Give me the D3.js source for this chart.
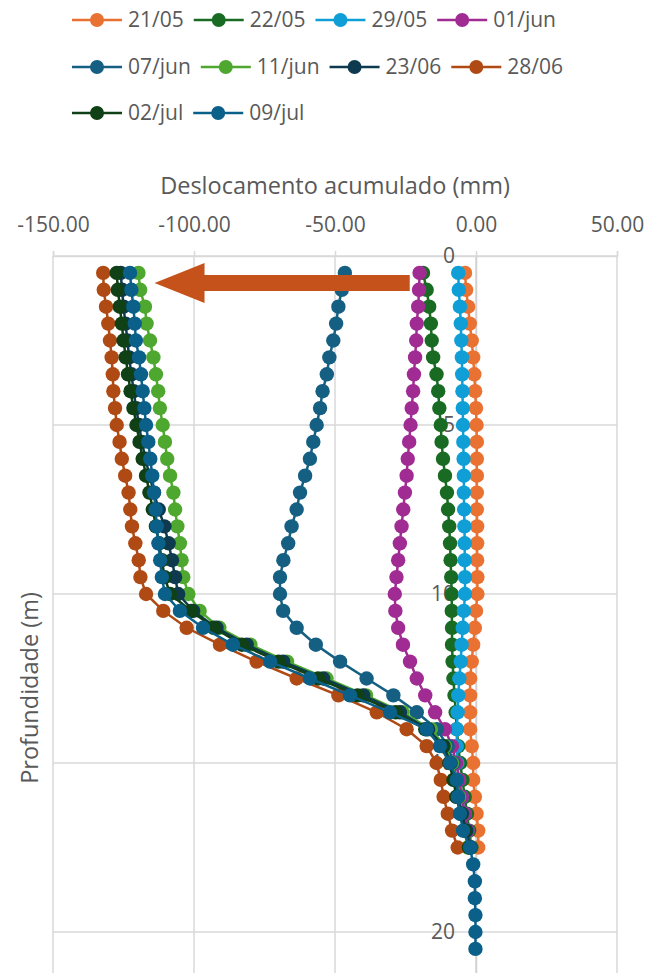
<!DOCTYPE html>
<html>
<head>
<meta charset="utf-8">
<script src="https://cdn.jsdelivr.net/npm/d3@7"></script>
<style>
	body { margin: 0; background: #fff; overflow: hidden; }
	text { font-family: "Open Sans", "Noto Sans", sans-serif; fill: #595959; }
</style>
</head>
<body>
<svg id="chart" width="652" height="973"></svg>
<script>
// depth of each reading (m)
const depths = [0.5, 1, 1.5, 2, 2.5, 3, 3.5, 4, 4.5, 5, 5.5, 6, 6.5, 7, 7.5, 8, 8.5, 9, 9.5, 10,
	10.5, 11, 11.5, 12, 12.5, 13, 13.5, 14, 14.5, 15, 15.5, 16, 16.5, 17, 17.5, 18, 18.5, 19, 19.5, 20, 20.5]

const seriesNames = ['21/05', '22/05', '29/05', '01/jun', '07/jun', '11/jun', '23/06', '28/06', '02/jul', '09/jul']
const seriesColors = ['#E97132', '#196B24', '#0F9ED5', '#A02B93', '#156082', '#4EA72E', '#0D3A4E', '#B04A14', '#0F4016', '#0B6089']

// accumulated displacement (mm), one value per depth
const disp2105 = [-3.9, -3.5, -2.8, -2.2, -1.5, -1.0, -0.6, -0.3, 0.0, 0.2, 0.3, 0.3, 0.3, 0.3, 0.3, 0.4, 0.4, 0.4, 0.5,
	0.5, 0.0, -0.4, -1.0, -1.5, -2.1, -2.1, -2.1, -2.1, -1.5, -1.0, -1.0, -0.4, 0.2, 0.8, 0.8]
const disp2205 = [-18.8, -17.5, -16.6, -16.0, -15.7, -15.2, -14.0, -13.4, -13.0, -12.5, -12.2, -11.7, -11.0, -10.3, -9.9, -9.5, -9.2, -9.0, -8.8,
	-8.6, -8.6, -8.5, -8.5, -8.3, -8.0, -7.6, -7.2, -6.8, -6.3, -5.6, -4.8, -4.0, -3.2, -2.4, -1.6]
const disp2905 = [-6.3, -6.1, -5.7, -5.4, -5.2, -5.0, -4.9, -4.8, -4.7, -4.6, -4.5, -4.4, -4.3, -4.3, -4.2, -4.1, -4.0, -4.0, -3.9,
	-3.9, -4.3, -4.7, -5.1, -5.4, -5.9, -6.3, -6.5, -6.8, -6.8, -6.6, -6.0, -5.0, -4.0, -3.0, -2.0]
const disp0106 = [-20.0, -20.2, -20.5, -21.0, -21.2, -21.6, -22.0, -22.3, -22.8, -23.2, -23.7, -24.2, -24.6, -25.2, -25.8, -26.4, -27.0, -27.6, -28.2,
	-28.8, -28.6, -27.6, -25.9, -23.4, -21.0, -18.0, -14.5, -11.0, -8.5, -7.0, -6.0, -5.0, -4.0, -3.0, -2.0]
const disp0706 = [-46.5, -47.6, -48.8, -49.6, -50.6, -52.0, -52.9, -54.4, -55.3, -56.5, -57.7, -58.9, -60.6, -62.4, -63.6, -65.4, -66.6, -68.3, -69.5,
	-69.5, -68.4, -63.6, -56.8, -48.2, -38.8, -29.3, -21.0, -13.9, -10.0, -8.0, -7.0, -6.0, -5.0, -3.5, -2.0]
const disp1106 = [-119.7, -119.1, -117.4, -116.8, -115.6, -114.4, -113.5, -112.7, -112.1, -111.1, -110.3, -109.5, -108.5, -107.3, -106.7, -105.9, -105.0, -104.4, -103.8,
	-102.0, -98.0, -91.0, -80.0, -67.0, -53.0, -39.0, -26.0, -16.0, -11.0, -8.5, -7.0, -6.0, -5.0, -4.0, -3.0]
const disp2306 = [-126.0, -125.5, -125.0, -124.3, -123.6, -123.0, -122.2, -121.4, -120.5, -119.5, -118.5, -117.2, -115.8, -114.2, -112.5, -110.5, -109.0, -107.8, -106.7,
	-105.6, -100.3, -92.0, -81.3, -68.4, -54.2, -40.0, -27.0, -17.0, -11.5, -9.0, -7.5, -6.5, -5.0, -3.5, -2.0]
const disp2806 = [-132.2, -132.0, -131.2, -130.4, -129.8, -129.2, -128.8, -128.6, -128.0, -127.4, -126.4, -125.6, -124.4, -123.2, -122.6, -122.0, -120.8, -119.6, -119.0,
	-117.0, -110.9, -102.6, -90.8, -77.8, -63.6, -48.8, -35.2, -24.6, -17.5, -14.0, -12.5, -11.5, -10.0, -8.5, -6.5]
const disp0207 = [-127.4, -127.0, -126.3, -125.6, -125.0, -124.2, -123.4, -122.5, -121.5, -120.4, -119.3, -118.2, -117.0, -115.8, -114.6, -113.5, -112.4, -111.4, -110.4,
	-108.5, -101.0, -93.0, -83.0, -70.0, -56.0, -42.0, -28.5, -18.0, -12.0, -9.5, -8.0, -7.0, -5.5, -4.0, -2.5]
const disp0907 = [-122.7, -122.2, -121.5, -121.0, -120.6, -119.5, -118.8, -118.2, -117.6, -117.0, -116.2, -115.5, -114.8, -114.2, -113.6, -113.2, -112.6, -112.0, -111.4,
	-110.3, -105.0, -96.8, -86.2, -73.0, -58.9, -44.7, -30.5, -17.5, -12.8, -9.2, -6.8, -6.4, -5.7, -4.6, -2.1,
	-1.0, -0.4, -0.4, -0.2, -0.2, -0.2]

const xTicks = [-150, -100, -50, 0, 50]
const yTicks = [0, 5, 10, 15, 20]

// annotation arrow: from / to in chart units [mm, m]
const arrowFrom = [-23.5, 0.8]
const arrowTo = [-114, 0.8]

const legendRows = [[0, 1, 2, 3], [4, 5, 6, 7], [8, 9]]

;(function() {
	let svg = d3.select('#chart')
	let series = [disp2105, disp2205, disp2905, disp0106, disp0706, disp1106, disp2306, disp2806, disp0207, disp0907]
		.map((vals, i) => ({
			name: seriesNames[i],
			color: seriesColors[i],
			points: vals.map((v, j) => [v, depths[j]])
		}))

	let margin = { top: 256, left: 53, right: 35 }
	let x = d3.scaleLinear().domain([-150, 50]).range([margin.left, 652 - margin.right])
	let y = d3.scaleLinear().domain([0, 25]).range([margin.top, 1101])

	drawGrid(svg, x, y)
	drawAxes(svg, x, y)
	series.forEach(s => drawSeries(svg, x, y, s))
	drawArrow(svg, x, y)
	drawLegend(svg, series)
})();

function drawGrid(svg, x, y) {
	let grid = svg.append('g').attr('class', 'grid')
	grid.selectAll('line.v')
		.data(xTicks)
		.join('line')
		.attr('class', 'v')
		.attr('x1', d => x(d)).attr('x2', d => x(d))
		.attr('y1', y(0)).attr('y2', y(25))
		.attr('stroke', '#D9D9D9').attr('stroke-width', 1.5)
	grid.selectAll('line.h')
		.data(yTicks)
		.join('line')
		.attr('class', 'h')
		.attr('x1', x(-150)).attr('x2', x(50))
		.attr('y1', d => y(d)).attr('y2', d => y(d))
		.attr('stroke', '#D9D9D9').attr('stroke-width', 1.5)
}

function drawAxes(svg, x, y) {
	// top value axis
	let top = svg.append('g')
		.attr('transform', `translate(0, ${y(0)})`)
		.call(d3.axisTop(x).tickValues(xTicks).tickFormat(d => d.toFixed(2)).tickSize(5).tickPadding(19))
	top.select('.domain').attr('stroke', '#D9D9D9').attr('stroke-width', 1.5)
	top.selectAll('.tick line').attr('stroke', '#D9D9D9').attr('stroke-width', 1.5)
	top.selectAll('text').attr('font-size', 21).attr('fill', '#595959')

	// depth axis crossing at zero
	let left = svg.append('g')
		.attr('transform', `translate(${x(0)}, 0)`)
		.call(d3.axisLeft(y).tickValues(yTicks).tickSize(0).tickPadding(21))
	left.select('.domain').attr('stroke', '#D0D0D0').attr('stroke-width', 1.5)
	left.selectAll('text').attr('font-size', 21).attr('fill', '#595959')

	svg.append('text')
		.attr('x', (x(-150) + x(50)) / 2)
		.attr('y', 194)
		.attr('text-anchor', 'middle')
		.attr('font-size', 23.5)
		.text('Deslocamento acumulado (mm)')

	svg.append('text')
		.attr('transform', `translate(38, 688) rotate(-90)`)
		.attr('text-anchor', 'middle')
		.attr('font-size', 23.5)
		.text('Profundidade (m)')
}

function drawSeries(svg, x, y, s) {
	let g = svg.append('g')
	g.append('path')
		.datum(s.points)
		.attr('fill', 'none')
		.attr('stroke', s.color)
		.attr('stroke-width', 2.5)
		.attr('d', d3.line().x(d => x(d[0])).y(d => y(d[1])))
	g.selectAll('circle')
		.data(s.points)
		.join('circle')
		.attr('cx', d => x(d[0]))
		.attr('cy', d => y(d[1]))
		.attr('r', 7.2)
		.attr('fill', s.color)
}

function drawArrow(svg, x, y) {
	let x0 = x(arrowFrom[0]), x1 = x(arrowTo[0]), cy = y(arrowFrom[1])
	let shaft = 8, head = 20, headLen = 50
	let pts = [
		[x0, cy - shaft], [x1 + headLen, cy - shaft], [x1 + headLen, cy - head], [x1, cy],
		[x1 + headLen, cy + head], [x1 + headLen, cy + shaft], [x0, cy + shaft]
	]
	svg.append('polygon')
		.attr('points', pts.map(p => p.join(',')).join(' '))
		.attr('fill', '#C4521A')
}

function drawLegend(svg, series) {
	const rowY = [20, 67, 113], lineLen = 50, gap = 10
	legendRows.forEach((row, r) => {
		let cx = 72
		row.forEach(i => {
			let s = series[i]
			let item = svg.append('g')
			item.append('line')
				.attr('x1', cx).attr('x2', cx + lineLen)
				.attr('y1', rowY[r]).attr('y2', rowY[r])
				.attr('stroke', s.color).attr('stroke-width', 2.5)
			item.append('circle')
				.attr('cx', cx + lineLen / 2).attr('cy', rowY[r]).attr('r', 7)
				.attr('fill', s.color)
			let t = item.append('text')
				.attr('x', cx + lineLen + 6)
				.attr('y', rowY[r])
				.attr('dy', '0.35em')
				.attr('font-size', 21)
				.text(s.name)
			cx += lineLen + 6 + t.node().getComputedTextLength() + gap
		})
	})
}
</script>
</body>
</html>
